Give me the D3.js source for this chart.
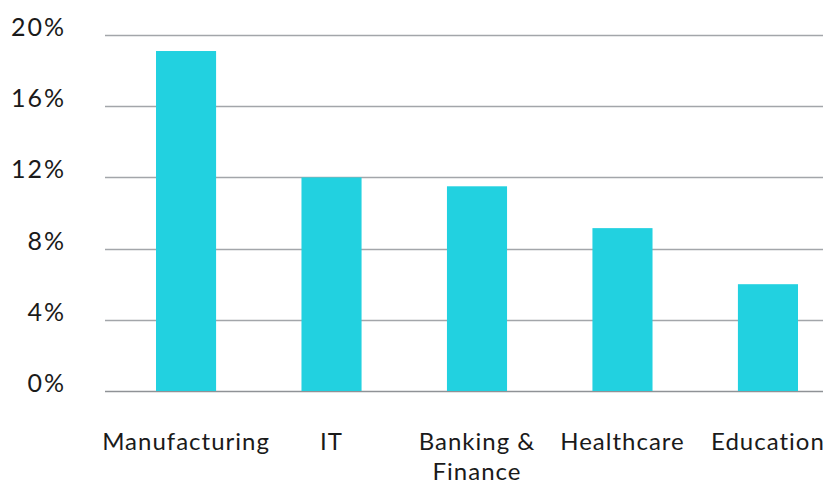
<!DOCTYPE html>
<html>
<head>
<meta charset="utf-8">
<script src="https://cdn.jsdelivr.net/npm/d3@7"></script>
<style>
  html, body { margin: 0; padding: 0; background: #fff; }
  svg { display: block; }
  text { font-family: Lato, "Open Sans", sans-serif; fill: #1a1a1a; }
</style>
</head>
<body>
<svg id="chart" width="828" height="484"></svg>
<script>
// Share of employment by sector (%)
const categories = ["Manufacturing", "IT", "Banking & Finance", "Healthcare", "Education"];
const values = [19.1, 12.0, 11.5, 9.15, 6.0];
const yTicks = [0, 4, 8, 12, 16, 20];

const gridLeft = 105, gridRight = 823;
const yTop = 35, yBottom = 391;

const svg = d3.select("#chart");

const y = d3.scaleLinear().domain([0, 20]).range([yBottom, yTop]);
const x = d3.scaleBand()
  .domain(categories)
  .range([156, 798])
  .paddingInner(0.587)
  .paddingOuter(0);

// horizontal gridlines + percentage labels
const yAxis = svg.append("g").attr("class", "y-axis");
yAxis.selectAll("line")
  .data(yTicks)
  .join("line")
  .attr("x1", gridLeft)
  .attr("x2", gridRight)
  .attr("y1", d => Math.round(y(d)) + 0.5)
  .attr("y2", d => Math.round(y(d)) + 0.5)
  .attr("stroke", d => d === 0 ? "#8f9296" : "#a3a6aa")
  .attr("stroke-width", 1.3);

yAxis.selectAll("text")
  .data(yTicks)
  .join("text")
  .attr("x", 66)
  .attr("y", d => y(d) + 1)
  .attr("text-anchor", "end")
  .attr("font-size", 25)
  .attr("letter-spacing", 2)
  .text(d => d + "%");

// bars
svg.append("g").selectAll("rect")
  .data(categories.map((c, i) => ({ c, v: values[i] })))
  .join("rect")
  .attr("x", d => x(d.c))
  .attr("y", d => y(d.v))
  .attr("width", x.bandwidth())
  .attr("height", d => y(0) - y(d.v))
  .attr("fill", "#22d1e0");

// category labels, wrapped onto two lines when too wide
const labels = svg.append("g").selectAll("text")
  .data(categories)
  .join("text")
  .attr("x", d => x(d) + x.bandwidth() / 2)
  .attr("y", 450)
  .attr("text-anchor", "middle")
  .attr("font-size", 24)
  .attr("letter-spacing", 1);

labels.each(function(d) {
  const el = d3.select(this);
  const words = d.split(" ");
  const maxW = 145;
  let lines = [];
  let cur = [];
  const probe = el.append("tspan");
  words.forEach(w => {
    const test = cur.concat(w).join(" ");
    probe.text(test);
    if (probe.node().getComputedTextLength() > maxW && cur.length) {
      lines.push(cur.join(" "));
      cur = [w];
    } else {
      cur.push(w);
    }
  });
  lines.push(cur.join(" "));
  probe.remove();
  lines.forEach((ln, i) => {
    el.append("tspan")
      .attr("x", el.attr("x"))
      .attr("dy", i === 0 ? 0 : 30)
      .text(ln);
  });
});
</script>
</body>
</html>
